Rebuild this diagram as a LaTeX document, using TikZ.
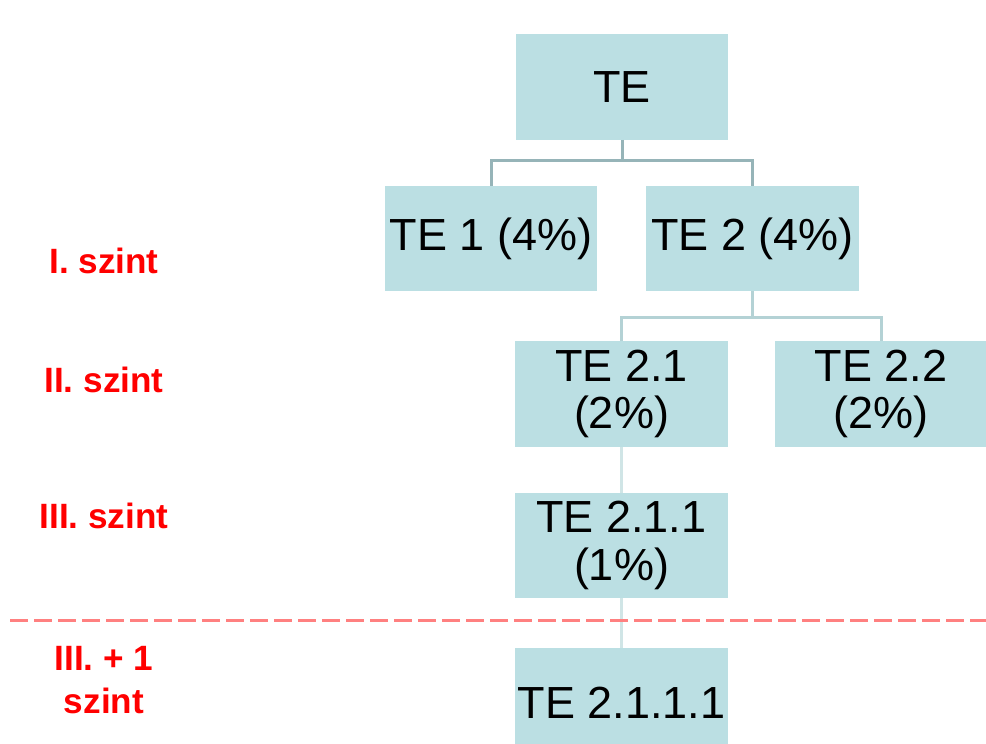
\documentclass[tikz,border=0pt]{standalone}
\usepackage{fontspec}
\setmainfont{Liberation Sans}
\usepackage{xcolor}
\usetikzlibrary{positioning}
\definecolor{boxfill}{RGB}{187,223,227}
\definecolor{linkdark}{RGB}{150,180,184}
\definecolor{linkmid}{RGB}{180,210,213}
\definecolor{linklight}{RGB}{208,229,230}
\definecolor{cutred}{RGB}{255,128,128}

\begin{document}
\begin{tikzpicture}[
  x=0.025cm, y=-0.025cm,
  wbs/.style={rectangle, fill=boxfill, inner sep=0pt, minimum width=5.3cm, minimum height=2.63cm,
              align=center, font=\fontsize{32}{34}\selectfont},
  lvl/.style={text=red, align=center, font=\fontsize{25}{31}\selectfont\bfseries},
  link/.style={line width=0.075cm}
]
  \clip (0,0) rectangle (986,743);
  \fill[white] (0,0) rectangle (986,743);

  % boxes
  \node[wbs] (te)    at (622,87)    {TE};
  \node[wbs] (te1)   at (491,238.5) {TE 1 (4\%)};
  \node[wbs] (te2)   at (752.5,238.5) {TE 2 (4\%)};
  \node[wbs] (te21)  at (621.5,394) {TE 2.1\\(2\%)};
  \node[wbs] (te22)  at (881,394)   {TE 2.2\\(2\%)};
  \node[wbs] (te211) at (621.5,545.5) {TE 2.1.1\\(1\%)};
  \node[wbs, minimum height=2.75cm] (te2111) at (621.5,703) {TE 2.1.1.1};

  % levels
  \node[lvl] (l1) at (104,261) {I. szint};
  \node[lvl] (l2) at (104,380) {II. szint};
  \node[lvl] (l3) at (104,516) {III. szint};
  \node[lvl] (l4) at (104,680) {III. + 1\\szint};

  % connectors
  \draw[link, linkdark] (te.south) -- ++(0,21) coordinate (j1);
  \draw[link, linkdark] (te1.north) |- (j1) -| (te2.north);
  \draw[link, linkmid] (te2.south) -- ++(0,26) coordinate (j2);
  \draw[link, linkmid] (te21.north) |- (j2) -| (te22.north);
  \draw[link, linklight] (te21.south) -- (te211.north);
  \draw[link, linklight] (te211.south) -- (te2111.north);

  % cut line
  \coordinate (cutL) at (10,620);
  \coordinate (cutR) at (986,620);
  \draw[cutred, line width=0.075cm, dash pattern=on 0.45cm off 0.15cm] (cutL) -- (cutR);
\end{tikzpicture}
\end{document}
